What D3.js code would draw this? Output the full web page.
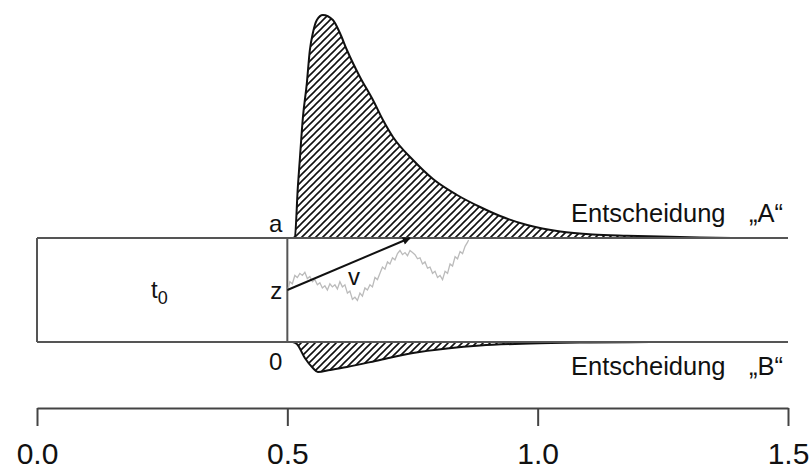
<!DOCTYPE html>
<html>
<head>
<meta charset="utf-8">
<script src="https://cdn.jsdelivr.net/npm/d3@7"></script>
<style>
  body { margin: 0; background: #fff; }
  text { font-family: "Liberation Sans", Arial, sans-serif; fill: #111; }
</style>
</head>
<body>
<svg id="chart" width="812" height="470"></svg>
<script>
// time axis
var tickValues = [0, 0.5, 1.0, 1.5];
var t0 = 0.5, boundA = 1, startZ = 0.5;

// first passage densities
var upperTime = [0.511, 0.515, 0.521, 0.525, 0.531, 0.539, 0.545, 0.551, 0.559, 0.571, 0.591, 0.605, 0.619, 0.645, 0.671, 0.691, 0.711, 0.751, 0.791, 0.839, 0.885, 0.925, 0.979, 1.045, 1.110, 1.178, 1.244, 1.324, 1.390];
var upperDens = [0, 0.02, 1.02, 1.58, 2.40, 3.10, 3.76, 4.10, 4.36, 4.46, 4.36, 4.10, 3.76, 3.22, 2.76, 2.36, 2.02, 1.56, 1.18, 0.86, 0.62, 0.44, 0.26, 0.13, 0.07, 0.045, 0.028, 0.012, 0.0];
var lowerTime = [0.511, 0.519, 0.535, 0.551, 0.561, 0.585, 0.619, 0.685, 0.751, 0.819, 0.885, 0.985, 1.104, 1.224];
var lowerDens = [0, 0.04, 0.32, 0.52, 0.60, 0.56, 0.50, 0.36, 0.22, 0.13, 0.07, 0.03, 0.01, 0.0];

// one sample path
var walkTime = [0.501, 0.505, 0.510, 0.515, 0.520, 0.525, 0.530, 0.535, 0.540, 0.545, 0.550, 0.555, 0.560, 0.565, 0.570, 0.575, 0.580, 0.585, 0.590, 0.595, 0.600, 0.605, 0.610, 0.615, 0.620, 0.625, 0.630, 0.635, 0.640, 0.645, 0.650, 0.655, 0.660, 0.665, 0.670, 0.675, 0.680, 0.685, 0.690, 0.695, 0.700, 0.705, 0.710, 0.715, 0.720, 0.725, 0.730, 0.735, 0.740, 0.745, 0.750, 0.755, 0.760, 0.765, 0.770, 0.775, 0.780, 0.785, 0.790, 0.795, 0.800, 0.805, 0.810, 0.815, 0.820, 0.825, 0.830, 0.835, 0.840, 0.845, 0.850, 0.855, 0.860, 0.862];
var walkEvidence = [0.50, 0.58, 0.56, 0.64, 0.62, 0.66, 0.64, 0.67, 0.61, 0.63, 0.58, 0.60, 0.55, 0.57, 0.52, 0.54, 0.50, 0.56, 0.53, 0.55, 0.51, 0.58, 0.53, 0.55, 0.47, 0.49, 0.41, 0.43, 0.40, 0.47, 0.44, 0.52, 0.50, 0.55, 0.53, 0.62, 0.60, 0.66, 0.72, 0.70, 0.77, 0.75, 0.81, 0.79, 0.85, 0.88, 0.84, 0.86, 0.83, 0.88, 0.86, 0.84, 0.80, 0.81, 0.75, 0.77, 0.71, 0.72, 0.66, 0.68, 0.62, 0.64, 0.60, 0.68, 0.66, 0.75, 0.73, 0.82, 0.80, 0.87, 0.85, 0.92, 0.96, 0.98];

// drift arrow end
var driftEnd = [0.745, 1];

var svg = d3.select("#chart");
var x = d3.scaleLinear().domain([0, 1.5]).range([37, 788]);
var y = d3.scaleLinear().domain([0, 1]).range([342, 238]);
var dens = d3.scaleLinear().domain([0, 1]).range([0, 50]);

var defs = svg.append("defs");
var s = 7;
defs.append("pattern")
    .attr("id", "hatch")
    .attr("patternUnits", "userSpaceOnUse")
    .attr("width", s).attr("height", s)
  .append("path")
    .attr("d", "M-1,1 l2,-2 M0," + s + " l" + s + ",-" + s + " M" + (s - 1) + "," + (s + 1) + " l2,-2")
    .attr("stroke", "#111")
    .attr("stroke-width", 1.6);
defs.append("marker")
    .attr("id", "head")
    .attr("viewBox", "0 0 10 10")
    .attr("refX", 9).attr("refY", 5)
    .attr("markerWidth", 5).attr("markerHeight", 4)
    .attr("orient", "auto")
    .attr("markerUnits", "strokeWidth")
  .append("path").attr("d", "M0,0 L10,5 L0,10 z").attr("fill", "#111");

// densities
var upper = d3.area()
    .x(function (d, i) { return x(upperTime[i]); })
    .y0(y(boundA))
    .y1(function (d) { return y(boundA) - dens(d); })
    .curve(d3.curveMonotoneX);
var lower = d3.area()
    .x(function (d, i) { return x(lowerTime[i]); })
    .y0(y(0))
    .y1(function (d) { return y(0) + dens(d); })
    .curve(d3.curveMonotoneX);

svg.append("path").attr("d", upper(upperDens))
    .attr("fill", "url(#hatch)").attr("stroke", "#111").attr("stroke-width", 2);
svg.append("path").attr("d", lower(lowerDens))
    .attr("fill", "url(#hatch)").attr("stroke", "#111").attr("stroke-width", 2);

// box and boundaries
var box = svg.append("g").attr("stroke", "#555").attr("stroke-width", 2).attr("fill", "none");
box.append("line").attr("x1", x(0)).attr("x2", x(1.5)).attr("y1", y(boundA)).attr("y2", y(boundA));
box.append("line").attr("x1", x(0)).attr("x2", x(1.5)).attr("y1", y(0)).attr("y2", y(0));
box.append("line").attr("x1", x(0)).attr("x2", x(0)).attr("y1", y(0)).attr("y2", y(boundA));
box.append("line").attr("x1", x(t0)).attr("x2", x(t0)).attr("y1", y(0)).attr("y2", y(boundA));

// random walk
var walk = d3.line()
    .x(function (d, i) { return x(walkTime[i]); })
    .y(function (d) { return y(d); });
svg.append("path").attr("d", walk(walkEvidence))
    .attr("fill", "none").attr("stroke", "#bbb").attr("stroke-width", 1.3);

// drift
svg.append("line")
    .attr("x1", x(t0)).attr("y1", y(startZ))
    .attr("x2", x(driftEnd[0])).attr("y2", y(driftEnd[1]))
    .attr("stroke", "#111").attr("stroke-width", 2)
    .attr("marker-end", "url(#head)");

// labels
var fs = 24;
svg.append("text").attr("x", x(t0) - 5).attr("y", y(boundA) - 6)
    .attr("text-anchor", "end").attr("font-size", fs).text("a");
svg.append("text").attr("x", x(t0) - 5).attr("y", y(startZ) + 9)
    .attr("text-anchor", "end").attr("font-size", fs).text("z");
svg.append("text").attr("x", x(t0) - 5).attr("y", y(0) + 28)
    .attr("text-anchor", "end").attr("font-size", fs).text("0");
svg.append("text").attr("x", 354).attr("y", 285)
    .attr("text-anchor", "middle").attr("font-size", fs).text("v");
var tl = svg.append("text").attr("x", 151).attr("y", 298).attr("font-size", fs);
tl.append("tspan").text("t");
tl.append("tspan").attr("dy", 6).attr("font-size", 18).text("0");

var fd = 25.5;
svg.append("text").attr("x", 571).attr("y", y(boundA) - 16).attr("font-size", fd).text("Entscheidung");
svg.append("text").attr("x", 783).attr("y", y(boundA) - 16).attr("text-anchor", "end").attr("font-size", fd).text("\u201eA\u201c");
svg.append("text").attr("x", 571).attr("y", y(0) + 33).attr("font-size", fd).text("Entscheidung");
svg.append("text").attr("x", 783).attr("y", y(0) + 33).attr("text-anchor", "end").attr("font-size", fd).text("\u201eB\u201c");

// time axis
var axis = svg.append("g").attr("transform", "translate(0,408)")
    .call(d3.axisBottom(x).tickValues(tickValues).tickFormat(d3.format(".1f"))
        .tickSize(18).tickSizeOuter(0).tickPadding(17));
axis.select(".domain").attr("stroke", "#444").attr("stroke-width", 2);
axis.selectAll(".tick line").attr("stroke", "#444").attr("stroke-width", 2);
axis.selectAll(".tick text").attr("font-size", 30).attr("fill", "#111")
    .attr("font-family", "Liberation Sans, Arial, sans-serif");
</script>
</body>
</html>
